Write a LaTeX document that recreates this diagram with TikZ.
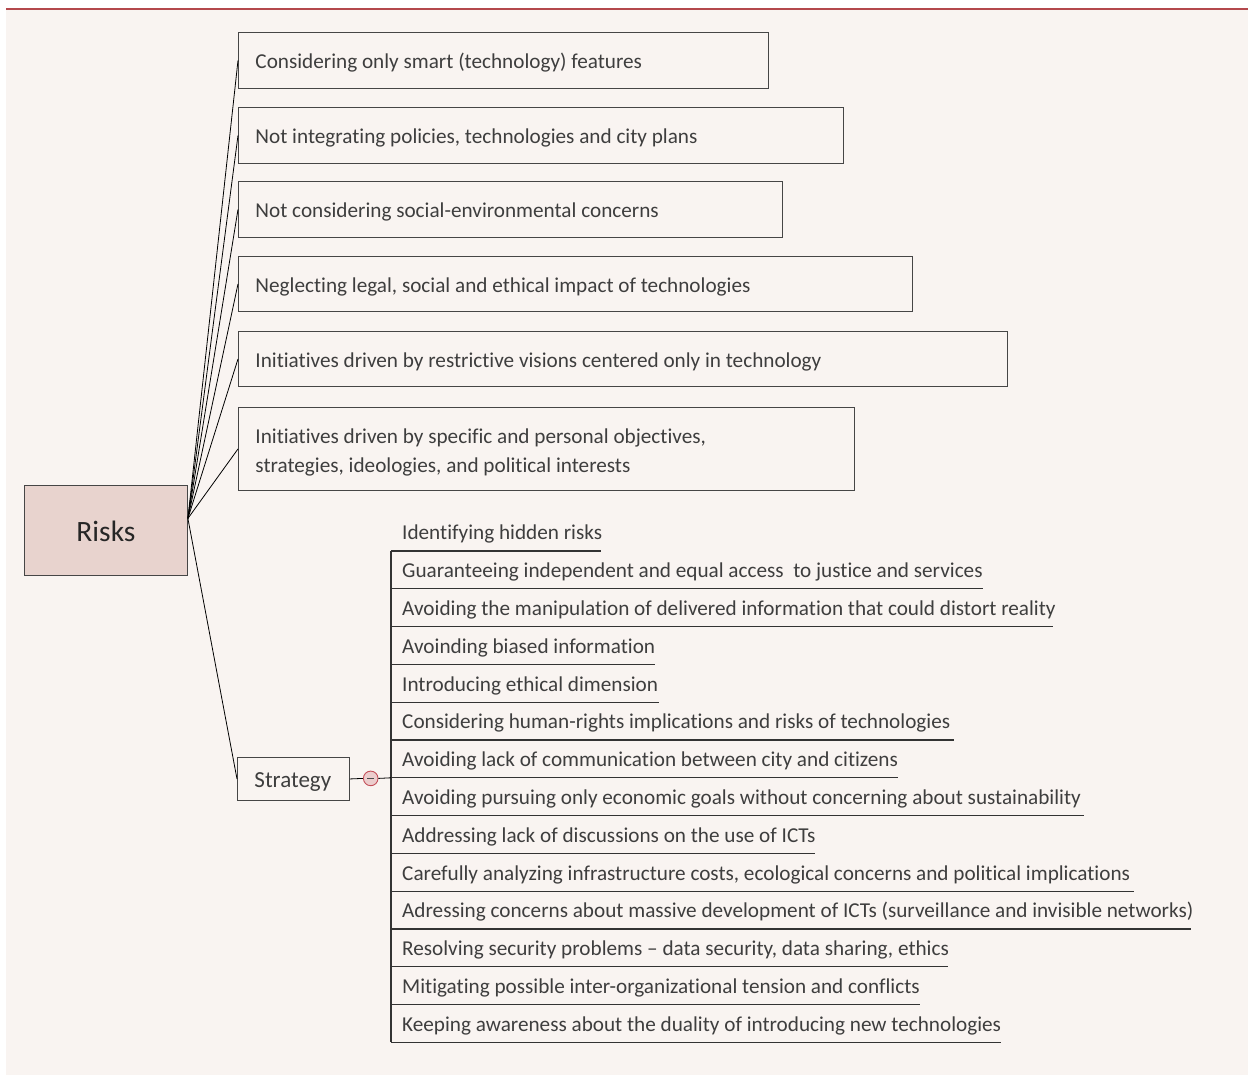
\documentclass[tikz,border=0pt]{standalone}
\usepackage{fontspec}
\setmainfont{Carlito}[Ligatures={NoCommon}]
\definecolor{bgc}{RGB}{249,244,241}
\definecolor{topline}{RGB}{180,72,76}
\definecolor{boxc}{RGB}{70,70,70}
\definecolor{txt}{RGB}{62,62,62}
\definecolor{riskfill}{RGB}{232,211,206}
\definecolor{togfill}{RGB}{236,205,205}
\definecolor{togdraw}{RGB}{196,80,90}
\newcommand\lstbx[2]{\makebox[#1pt][l]{\hspace{11pt}#2}}
\newcommand\rskbx[2]{\makebox[#1pt][l]{\hspace{17pt}#2}}
\tikzset{
  rbox/.style={draw=boxc, line width=0.9pt, inner sep=0pt, anchor=north west,
    text height=19pt, text depth=2.5pt, minimum height=56pt,
    font=\fontsize{21.2}{29}\selectfont, text=txt},
  itm/.style={inner xsep=0pt, inner ysep=7pt, anchor=south west,
    text height=15pt, text depth=4pt, font=\fontsize{21.2}{29}\selectfont, text=txt},
  uline/.style={draw=black!80, line width=1.1pt},
  conn/.style={draw=black, line width=0.8pt},
}
\begin{document}
\begin{tikzpicture}[x=1pt,y=-1pt]
\useasboundingbox (0,0) rectangle (1248,1075);
\fill[white] (0,0) rectangle (1248,1075);
\fill[bgc] (6,9) rectangle (1248,1075);
\draw[topline, line width=1.5pt] (6,9) -- (1248,9);

% central node
\node[draw=boxc, fill=riskfill, line width=0.9pt, inner sep=0pt, anchor=north west,
  minimum width=163pt, minimum height=90pt, text height=24pt, text depth=2pt,
  font=\fontsize{29.5}{32}\selectfont, text=black!85] (risks) at (24,485) {Risks};
\coordinate (hub) at ([yshift=12pt]risks.east);

% risk boxes
\node[rbox] (r1) at (238,32) {\rskbx{530}{Considering only smart (technology) features}};
\node[rbox] (r2) at (238,107) {\rskbx{605}{Not integrating policies, technologies and city plans}};
\node[rbox] (r3) at (238,181) {\rskbx{544}{Not considering social-environmental concerns}};
\node[rbox, minimum height=55pt] (r4) at (238,256) {\rskbx{674}{Neglecting legal, social and ethical impact of technologies}};
\node[rbox, minimum height=55pt] (r5) at (238,331) {\rskbx{769}{Initiatives driven by restrictive visions centered only in technology}};
\node[rbox, minimum height=83pt, text height=19pt, text depth=30.6pt] (r6) at (238,407)
  {\rskbx{616}{\parbox[t]{590pt}{\baselineskip=29pt Initiatives driven by specific and personal objectives,\\strategies, ideologies, and political interests}}};

\foreach \n in {r1,r2,r3,r4,r5,r6} \draw[conn] (hub) -- (\n.west);

% strategy
\node[rbox, minimum height=43pt, text height=19pt, text depth=2pt,
  font=\fontsize{23}{29}\selectfont] (strat) at (237,757) {\rskbx{112}{Strategy}};
\draw[conn] (hub) -- (strat.west);

\node[circle, draw=togdraw, fill=togfill, line width=0.9pt, minimum size=14.6pt, inner sep=0pt] (tog) at (370.7,778.4) {};
\draw[black!70, line width=1pt] ([xshift=-3.5pt]tog.center) -- ([xshift=3.5pt]tog.center);
\draw[conn] (strat.east) -- (tog.west);

% strategy items
\node[itm] (s1) at (391,551.0) {\lstbx{210}{Identifying hidden risks}};
\node[itm] (s2) at (391,588.8) {\lstbx{592}{Guaranteeing independent and equal access~ to justice and services}};
\node[itm] (s3) at (391,626.6) {\lstbx{662}{Avoiding the manipulation of delivered information that could distort reality}};
\node[itm] (s4) at (391,664.4) {\lstbx{264}{Avoinding biased information}};
\node[itm] (s5) at (391,702.2) {\lstbx{268}{Introducing ethical dimension}};
\node[itm] (s6) at (391,740.0) {\lstbx{563}{Considering human-rights implications and risks of technologies}};
\node[itm] (s7) at (391,777.8) {\lstbx{507}{Avoiding lack of communication between city and citizens}};
\node[itm] (s8) at (391,815.6) {\lstbx{693}{Avoiding pursuing only economic goals without concerning about sustainability}};
\node[itm] (s9) at (391,853.4) {\lstbx{424}{Addressing lack of discussions on the use of ICTs}};
\node[itm] (s10) at (391,891.2) {\lstbx{743}{Carefully analyzing infrastructure costs, ecological concerns and political implications}};
\node[itm] (s11) at (391,929.0) {\lstbx{800}{Adressing concerns about massive development of ICTs (surveillance and invisible networks)}};
\node[itm] (s12) at (391,966.8) {\lstbx{557}{Resolving security problems – data security, data sharing, ethics}};
\node[itm] (s13) at (391,1004.6) {\lstbx{529}{Mitigating possible inter-organizational tension and conflicts}};
\node[itm] (s14) at (391,1042.4) {\lstbx{610}{Keeping awareness about the duality of introducing new technologies}};

\foreach \n in {s1,s2,s3,s4,s5,s6,s7,s8,s9,s10,s11,s12,s13,s14}
  \draw[uline] (\n.south west) -- (\n.south east);
\draw[uline] (s1.south west) -- (s14.south west);
\draw[conn] (tog.east) -- (s7.south west);
\end{tikzpicture}
\end{document}
